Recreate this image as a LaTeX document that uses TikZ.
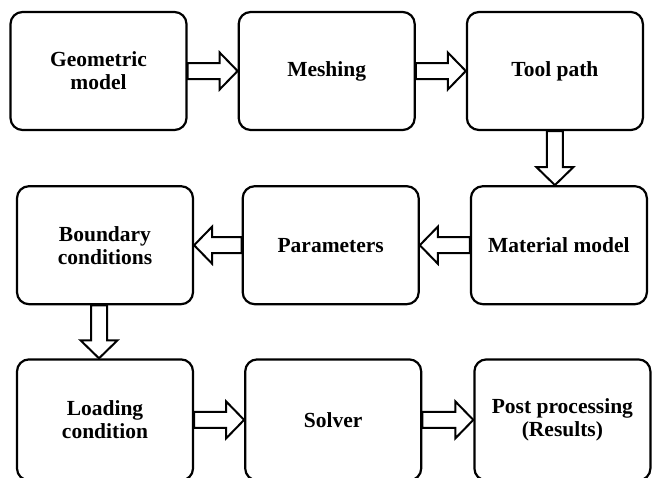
\documentclass[tikz,border=0pt]{standalone}
\usepackage{fontspec}
\setmainfont{Liberation Serif}
\usetikzlibrary{positioning,calc}

\newcommand{\blockarrow}[2]{%
  \draw[fat] let \p1=($(#2)-(#1)$), \n1={veclen(\x1,\y1)}, \n2={atan2(\y1,\x1)} in
    ([shift={(#1)},rotate=\n2]0,-8) -- ([shift={(#1)},rotate=\n2]{\n1-18},-8)
    -- ([shift={(#1)},rotate=\n2]{\n1-18},-18.5) -- ([shift={(#1)},rotate=\n2]\n1,0)
    -- ([shift={(#1)},rotate=\n2]{\n1-18},18.5) -- ([shift={(#1)},rotate=\n2]{\n1-18},8)
    -- ([shift={(#1)},rotate=\n2]0,8) -- cycle;}

\begin{document}
\begin{tikzpicture}[x=1pt,y=1pt,node distance=50pt,
    box/.style={draw,line width=2.2pt,rounded corners=12pt,minimum width=176pt,minimum height=118pt,align=center,inner sep=0pt,font=\bfseries\fontsize{21.5}{23}\selectfont},
    lowbox/.style={box,minimum height=121pt},
    fat/.style={draw,line width=2pt,fill=white,line join=miter}]
    \useasboundingbox (0,0) rectangle (653,-477);

    \node[box] (geo) at (98.5,-71) {Geometric\\model};
    \node[box] (mesh) [right=of geo] {Meshing};
    \node[box] (tool) [right=of mesh] {Tool path};
    \node[box] (mat) [below=54pt of tool, xshift=4pt] {Material model};
    \node[box] (par) [left=of mat] {Parameters};
    \node[box] (bnd) [left=47.5pt of par] {Boundary\\conditions};
    \node[lowbox] (load) [below=53pt of bnd] {Loading\\condition};
    \node[lowbox] (solver) [right=of load] {Solver};
    \node[lowbox] (post) [right=51pt of solver] {Post processing\\(Results)};

    \coordinate (t1) at (tool.south |- mat.north);
    \coordinate (m1) at (mat.west -| par.east);
    \coordinate (p1) at (par.west |- mat.west);
    \coordinate (p2) at (bnd.east |- mat.west);
    \coordinate (b1) at ([xshift=-6pt]bnd.south);
    \coordinate (b2) at (b1 |- load.north);

    \blockarrow{geo.east}{mesh.west}
    \blockarrow{mesh.east}{tool.west}
    \blockarrow{tool.south}{t1}
    \blockarrow{mat.west}{m1}
    \blockarrow{p1}{p2}
    \blockarrow{b1}{b2}
    \blockarrow{load.east}{solver.west}
    \blockarrow{solver.east}{post.west}
\end{tikzpicture}
\end{document}
